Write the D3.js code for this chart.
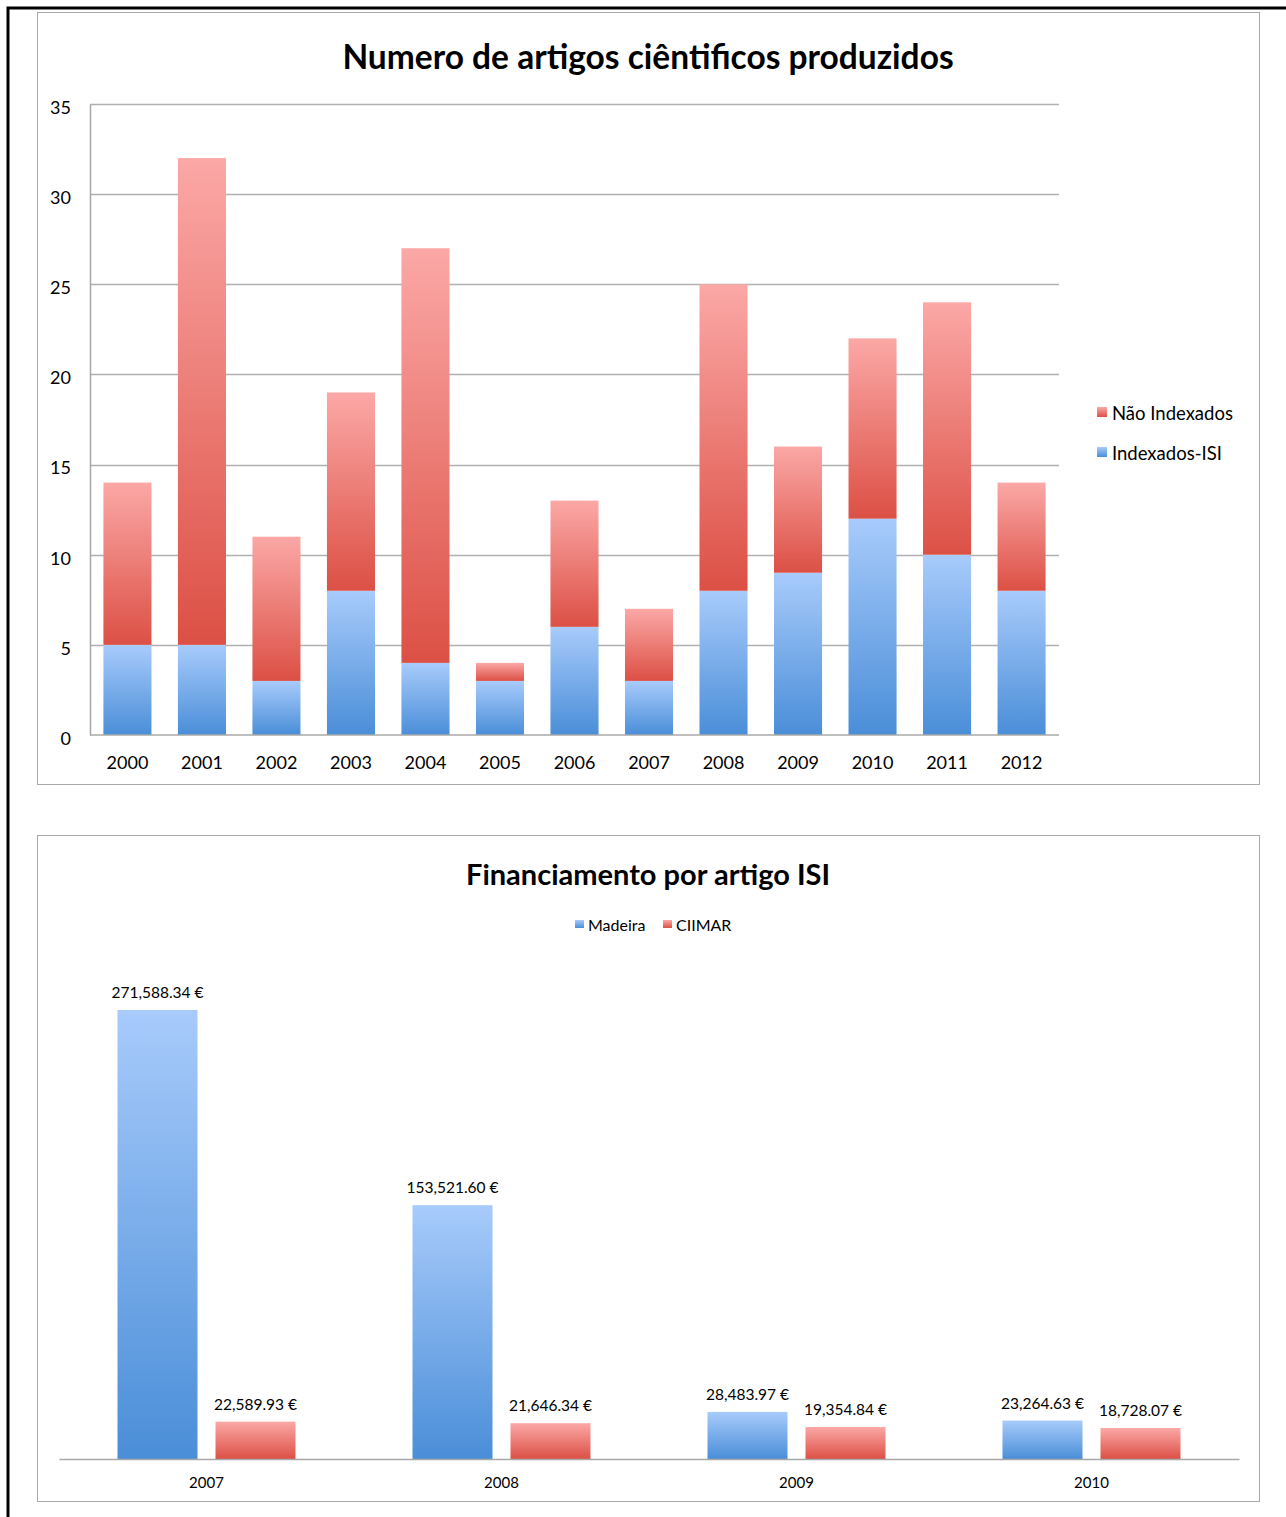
<!DOCTYPE html>
<html>
<head>
<meta charset="utf-8">
<script src="https://cdn.jsdelivr.net/npm/d3@7"></script>
<style>
  body { margin: 0; background: #fff; }
  svg { display: block; font-family: Lato, "Open Sans", sans-serif; }
</style>
</head>
<body>
<svg id="container" width="1286" height="1517"></svg>
<script>
// chart 1 data
const years = ['2000','2001','2002','2003','2004','2005','2006','2007','2008','2009','2010','2011','2012'];
const indexadosISI = [5, 5, 3, 8, 4, 3, 6, 3, 8, 9, 12, 10, 8];
const naoIndexados = [9, 27, 8, 11, 23, 1, 7, 4, 17, 7, 10, 14, 6];
const yTicks = [0, 5, 10, 15, 20, 25, 30, 35];

// chart 2 data
const finYears = ['2007', '2008', '2009', '2010'];
const madeira = [271588.34, 153521.60, 28483.97, 23264.63];
const ciimar = [22589.93, 21646.34, 19354.84, 18728.07];

const svg = d3.select('#container');

// gradients
const defs = svg.append('defs');
function grad(id, top, bottom) {
  const g = defs.append('linearGradient').attr('id', id)
    .attr('x1', 0).attr('y1', 0).attr('x2', 0).attr('y2', 1);
  g.append('stop').attr('offset', '0%').attr('stop-color', top);
  g.append('stop').attr('offset', '100%').attr('stop-color', bottom);
}
grad('gBlue', '#a8cbfb', '#4a8ed8');
grad('gRed', '#fba8a6', '#dc5045');

// page frame
svg.append('rect').attr('x', 8).attr('y', 8).attr('width', 1290).attr('height', 1520)
  .attr('fill', 'none').attr('stroke', '#000').attr('stroke-width', 3);

// panels
svg.append('rect').attr('x', 37.5).attr('y', 12.5).attr('width', 1222).attr('height', 772)
  .attr('fill', '#fff').attr('stroke', '#aaa');
svg.append('rect').attr('x', 37.5).attr('y', 835.5).attr('width', 1222).attr('height', 666)
  .attr('fill', '#fff').attr('stroke', '#aaa');

// ---------- chart 1 ----------
const x1 = d3.scaleBand().domain(years).range([90, 1059]).paddingInner(0.355).paddingOuter(0.18);
const y1 = d3.scaleLinear().domain([0, 35]).range([735, 104]);

svg.append('text').attr('x', 648).attr('y', 69).attr('text-anchor', 'middle')
  .attr('font-size', 33.5).attr('font-weight', 'bold').attr('fill', '#000')
  .text('Numero de artigos ciêntificos produzidos');

svg.append('g').selectAll('line').data(yTicks.slice(1)).join('line')
  .attr('x1', 90).attr('x2', 1059)
  .attr('y1', d => Math.round(y1(d)) + 0.5).attr('y2', d => Math.round(y1(d)) + 0.5)
  .attr('stroke', '#b0b0b0').attr('stroke-width', 1.5);

const yAxis1 = svg.append('g').attr('transform', 'translate(90,0)')
  .call(d3.axisLeft(y1).tickValues(yTicks).tickSize(0).tickPadding(19));
yAxis1.select('.domain').attr('stroke', '#a8a8a8').attr('stroke-width', 1.5);
yAxis1.selectAll('text').attr('font-size', 18).attr('fill', '#000')
  .attr('font-family', 'Lato, sans-serif').attr('dy', '0.52em');

const cols = svg.append('g').selectAll('g').data(years).join('g');
cols.append('rect')
  .attr('x', d => x1(d)).attr('width', x1.bandwidth())
  .attr('y', (d, i) => y1(indexadosISI[i]))
  .attr('height', (d, i) => y1(0) - y1(indexadosISI[i]))
  .attr('fill', 'url(#gBlue)');
cols.append('rect')
  .attr('x', d => x1(d)).attr('width', x1.bandwidth())
  .attr('y', (d, i) => y1(indexadosISI[i] + naoIndexados[i]))
  .attr('height', (d, i) => y1(indexadosISI[i]) - y1(indexadosISI[i] + naoIndexados[i]))
  .attr('fill', 'url(#gRed)');

const xAxis1 = svg.append('g').attr('transform', 'translate(0,735)')
  .call(d3.axisBottom(x1).tickSize(0).tickPadding(21));
xAxis1.select('.domain').attr('stroke', '#a8a8a8').attr('stroke-width', 1.5).attr('d', 'M90,0H1059');
xAxis1.selectAll('text').attr('font-size', 18).attr('fill', '#000').attr('font-family', 'Lato, sans-serif');

const leg1 = [['Não Indexados', 'url(#gRed)'], ['Indexados-ISI', 'url(#gBlue)']];
const lg1 = svg.append('g').selectAll('g').data(leg1).join('g')
  .attr('transform', (d, i) => `translate(1097,${407 + i * 40})`);
lg1.append('rect').attr('width', 10).attr('height', 10).attr('fill', d => d[1]);
lg1.append('text').attr('x', 15).attr('y', 13).attr('font-size', 18.5).attr('fill', '#000').text(d => d[0]);

// ---------- chart 2 ----------
svg.append('text').attr('x', 648).attr('y', 885).attr('text-anchor', 'middle')
  .attr('font-size', 29).attr('font-weight', 'bold').attr('fill', '#000')
  .text('Financiamento por artigo ISI');

const leg2 = [['Madeira', 'url(#gBlue)', 575], ['CIIMAR', 'url(#gRed)', 663]];
const lg2 = svg.append('g').selectAll('g').data(leg2).join('g')
  .attr('transform', d => `translate(${d[2]},920)`);
lg2.append('rect').attr('width', 9).attr('height', 8).attr('fill', d => d[1]);
lg2.append('text').attr('x', 13).attr('y', 11).attr('font-size', 16).attr('fill', '#000').text(d => d[0]);

const x2 = d3.scaleBand().domain(finYears).range([59, 1239]);
const inner = d3.scaleBand().domain(['madeira', 'ciimar']).range([0, 178]).paddingInner(0.1837);
const y2 = d3.scaleLinear().domain([0, 300000]).range([1459, 963]);
const fmt = d3.format(',.2f');

const groups = svg.append('g').selectAll('g').data(finYears).join('g')
  .attr('transform', d => `translate(${x2(d) + x2.bandwidth() / 2 - 89},0)`);

[['madeira', madeira, 'url(#gBlue)'], ['ciimar', ciimar, 'url(#gRed)']].forEach(([key, vals, fill]) => {
  groups.append('rect')
    .attr('x', inner(key)).attr('width', inner.bandwidth())
    .attr('y', (d, i) => y2(vals[i]))
    .attr('height', (d, i) => y2(0) - y2(vals[i]))
    .attr('fill', fill);
  groups.append('text')
    .attr('x', inner(key) + inner.bandwidth() / 2)
    .attr('y', (d, i) => y2(vals[i]) - 12)
    .attr('text-anchor', 'middle').attr('font-size', 15.5).attr('fill', '#000')
    .text((d, i) => fmt(vals[i]) + ' €');
});

const xAxis2 = svg.append('g').attr('transform', 'translate(0,1459)')
  .call(d3.axisBottom(x2).tickSize(0).tickPadding(18));
xAxis2.select('.domain').attr('stroke', '#a8a8a8').attr('stroke-width', 1.5);
xAxis2.selectAll('text').attr('font-size', 15).attr('fill', '#000').attr('font-family', 'Lato, sans-serif');
</script>
</body>
</html>
